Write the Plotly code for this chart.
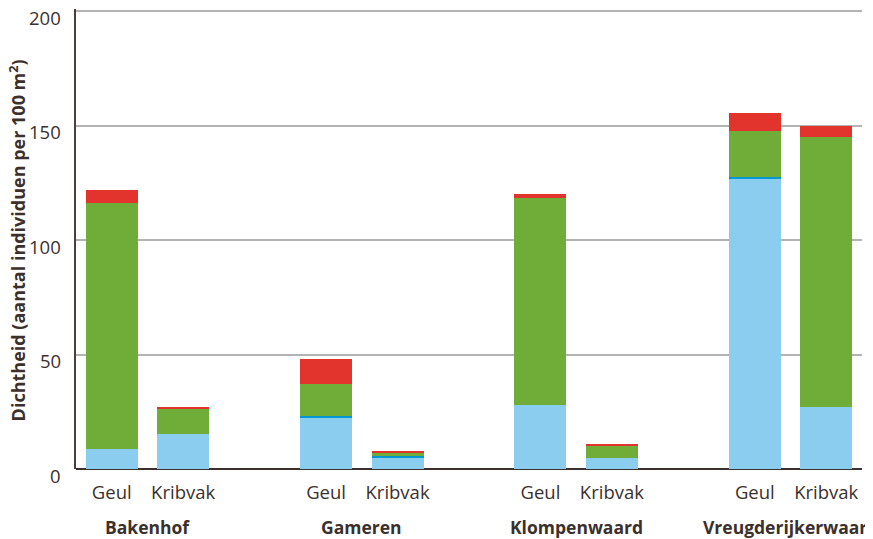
import plotly.graph_objects as go

# positions of bars (gap between sites)
positions = [0, 1, 3, 4, 6, 7, 9, 10]
bar_labels = ["Geul", "Kribvak"] * 4
sites = ["Bakenhof", "Gameren", "Klompenwaard", "Vreugderijkerwaard"]
site_pos = [0.5, 3.5, 6.5, 9.5]

light_blue = [8.7, 15.3, 22.3, 5.2, 27.9, 4.8, 126.6, 27.2]
dark_blue = [0.0, 0.0, 0.9, 0.6, 0.0, 0.0, 0.9, 0.0]
green = [107.5, 10.9, 14.0, 1.2, 90.6, 5.4, 20.1, 117.8]
red = [5.6, 0.9, 10.8, 0.9, 1.6, 0.8, 7.9, 4.9]

y_ticks = [0, 50, 100, 150, 200]

txt = "#3b302c"
font_family = "Open Sans, Noto Sans, sans-serif"

fig = go.Figure()
for vals, col in [(light_blue, "#8acdee"), (dark_blue, "#0098d4"),
                  (green, "#6fad38"), (red, "#e2342d")]:
    fig.add_trace(go.Bar(x=positions, y=vals, marker=dict(color=col, line=dict(width=0)),
                         width=0.727, showlegend=False))

fig.update_layout(
    barmode="stack",
    width=865, height=531,
    margin=dict(l=68, r=11, t=1, b=70, autoexpand=False),
    plot_bgcolor="white", paper_bgcolor="white",
    font=dict(family=font_family, color=txt, size=18),
    xaxis=dict(range=[-0.5, 10.5], tickvals=positions, ticktext=bar_labels,
               showgrid=False, zeroline=False, showline=False, ticks="",
               ticklabelstandoff=10, automargin=False,
               tickfont=dict(size=18.5, color=txt)),
    yaxis=dict(range=[0, 200.9], tickvals=y_ticks, showgrid=True, gridcolor="#b3b3b3",
               gridwidth=1.5, zeroline=True, zerolinecolor=txt, zerolinewidth=2,
               showline=True, linecolor="#4a3f3a", linewidth=1.5,
               showticklabels=False, automargin=False, ticks=""),
)

# y tick labels, hanging just below their gridline
for v in y_ticks:
    fig.add_annotation(x=0, y=v, xref="paper", yref="y", xshift=-13, yshift=-6,
                       text=str(v), showarrow=False, font=dict(size=18.5, color=txt),
                       xanchor="right", yanchor="middle")

for s, p in zip(sites, site_pos):
    fig.add_annotation(x=p, y=0, xref="x", yref="paper", yshift=-58,
                       text="<b>%s</b>" % s, showarrow=False,
                       font=dict(size=17.5, color=txt), xanchor="center", yanchor="middle")

fig.add_annotation(x=0, y=0.497, xref="paper", yref="paper", xshift=-58,
                   text="<b>Dichtheid (aantal individuen per 100 m<sup>2</sup>)</b>",
                   textangle=-90, showarrow=False, font=dict(size=18, color=txt),
                   xanchor="center", yanchor="middle")

fig.write_html("out.html")
